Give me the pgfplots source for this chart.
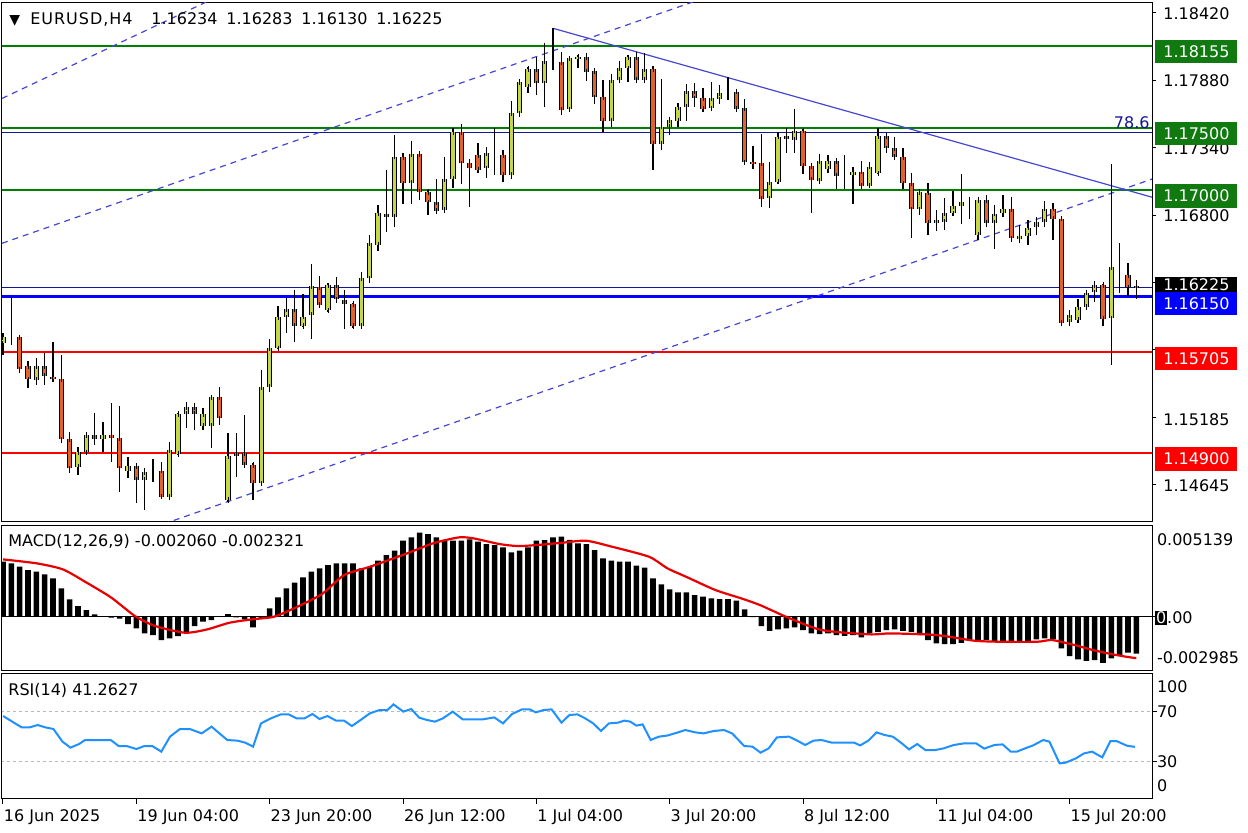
\documentclass[border=0pt]{standalone}
\usepackage{pgfplots}
\pgfplotsset{compat=1.18}
\usepackage{pgfplotstable}
\usepackage{fontspec}
\setmainfont{DejaVu Sans}

\definecolor{bullc}{RGB}{198,214,72}
\definecolor{bearc}{RGB}{226,98,46}
\definecolor{lvgreen}{RGB}{0,128,0}
\definecolor{boxgreen}{RGB}{16,122,16}
\definecolor{chan}{RGB}{70,70,210}
\definecolor{fibblue}{RGB}{20,20,150}
\definecolor{rsiblue}{RGB}{30,144,255}
\definecolor{macdred}{RGB}{232,0,0}
\newcommand\mt{\fontsize{8}{9.6}\selectfont}

% EURUSD H4 candles: bar index, open, high, low, close
\pgfplotstableread{
k o h l c
0 1.15776 1.15856 1.15682 1.15824
1 1.15824 1.16149 1.15762 1.15824
4 1.15482 1.15656 1.15442 1.15597
9 1.14789 1.14949 1.14722 1.14909
10 1.14904 1.15069 1.14882 1.15042
12 1.15008 1.15149 1.14909 1.15042
15 1.14757 1.14869 1.14696 1.14794
17 1.14682 1.14776 1.14442 1.14749
18 1.14757 1.14856 1.14669 1.14757
20 1.14549 1.14989 1.14536 1.14922
21 1.14890 1.15221 1.14882 1.15210
22 1.15210 1.15309 1.15096 1.15264
24 1.15114 1.15256 1.15082 1.15210
25 1.15114 1.15349 1.14936 1.15344
27 1.14522 1.15061 1.14509 1.14874
31 1.14656 1.15562 1.14634 1.15429
32 1.15429 1.15808 1.15389 1.15736
33 1.15736 1.16074 1.15728 1.15984
34 1.15984 1.16136 1.15856 1.16048
36 1.15914 1.16168 1.15904 1.15989
37 1.16002 1.16408 1.15808 1.16234
39 1.16042 1.16261 1.16029 1.16242
43 1.15914 1.16349 1.15896 1.16296
44 1.16296 1.16642 1.16256 1.16576
45 1.16562 1.16882 1.16517 1.16816
47 1.16789 1.17442 1.16709 1.17269
49 1.17061 1.17397 1.16890 1.17290
53 1.16842 1.17269 1.16816 1.17090
54 1.17090 1.17501 1.17016 1.17464
58 1.17176 1.17344 1.17096 1.17296
59 1.17296 1.17496 1.17122 1.17296
61 1.17122 1.17717 1.17088 1.17621
62 1.17616 1.17882 1.17589 1.17869
63 1.17829 1.17989 1.17776 1.17970
65 1.17856 1.18176 1.17664 1.18037
66 1.18034 1.18296 1.17962 1.18034
68 1.17648 1.18069 1.17642 1.18056
69 1.18050 1.18082 1.17976 1.18069
73 1.17554 1.17930 1.17509 1.17882
74 1.17882 1.18034 1.17877 1.17976
75 1.17976 1.18082 1.17869 1.18064
77 1.17882 1.18096 1.17861 1.17970
79 1.17370 1.17890 1.17327 1.17509
80 1.17509 1.17589 1.17442 1.17562
81 1.17557 1.17701 1.17509 1.17664
82 1.17669 1.17850 1.17557 1.17797
85 1.17656 1.17869 1.17648 1.17736
86 1.17728 1.17842 1.17690 1.17781
87 1.17789 1.17904 1.17722 1.17789
92 1.16936 1.17224 1.16856 1.17069
93 1.17069 1.17469 1.17048 1.17429
95 1.17402 1.17648 1.17301 1.17477
98 1.17074 1.17290 1.17061 1.17237
99 1.17170 1.17282 1.17136 1.17237
101 1.17122 1.17282 1.17008 1.17122
102 1.17122 1.17189 1.16890 1.17149
104 1.17037 1.17229 1.17029 1.17189
105 1.17136 1.17496 1.17130 1.17434
110 1.16848 1.17002 1.16802 1.16989
112 1.16741 1.16842 1.16677 1.16762
113 1.16749 1.16943 1.16687 1.16816
114 1.16816 1.16997 1.16794 1.16874
115 1.16874 1.17130 1.16730 1.16909
116 1.16909 1.16949 1.16775 1.16909
117 1.16642 1.16927 1.16602 1.16922
119 1.16741 1.16882 1.16527 1.16816
120 1.16816 1.16962 1.16783 1.16848
122 1.16607 1.16722 1.16581 1.16634
123 1.16634 1.16762 1.16562 1.16703
124 1.16709 1.16789 1.16642 1.16749
125 1.16749 1.16914 1.16703 1.16855
128 1.15949 1.16042 1.15914 1.16002
129 1.15962 1.16127 1.15941 1.16069
130 1.16069 1.16202 1.16047 1.16183
131 1.16183 1.16274 1.16109 1.16242
133 1.15975 1.17210 1.15602 1.16383
134 1.16383 1.16576 1.16181 1.16383
}\bulls

\pgfplotstableread{
k o h l c
2 1.15824 1.15842 1.15536 1.15568
3 1.15597 1.15634 1.15421 1.15488
5 1.15597 1.15696 1.15442 1.15514
6 1.15509 1.15789 1.15469 1.15493
7 1.15490 1.15682 1.14976 1.15008
8 1.15008 1.15069 1.14736 1.14776
11 1.15042 1.15216 1.14962 1.15008
13 1.15042 1.15296 1.14829 1.15016
14 1.15016 1.15274 1.14589 1.14776
16 1.14794 1.14802 1.14496 1.14682
19 1.14757 1.14829 1.14530 1.14549
23 1.15264 1.15296 1.15082 1.15210
26 1.15349 1.15429 1.15122 1.15176
28 1.14896 1.15056 1.14709 1.14874
29 1.14896 1.15202 1.14789 1.14802
30 1.14802 1.14816 1.14522 1.14661
35 1.16048 1.16208 1.15789 1.15914
38 1.16224 1.16314 1.16069 1.16082
40 1.16242 1.16304 1.16101 1.16128
41 1.16122 1.16208 1.15896 1.16090
42 1.16090 1.16101 1.15896 1.15914
46 1.16816 1.17162 1.16669 1.16789
48 1.17264 1.17301 1.16890 1.17056
50 1.17290 1.17317 1.16922 1.16989
51 1.16989 1.17002 1.16802 1.16904
52 1.16909 1.17088 1.16829 1.16837
55 1.17464 1.17528 1.17048 1.17216
56 1.17216 1.17248 1.16869 1.17181
57 1.17282 1.17381 1.17141 1.17162
60 1.17282 1.17322 1.17069 1.17122
64 1.17970 1.18069 1.17762 1.17856
67 1.18029 1.18109 1.17602 1.17642
70 1.18069 1.18096 1.17877 1.17949
71 1.17954 1.17976 1.17690 1.17744
72 1.17744 1.17882 1.17469 1.17554
76 1.18064 1.18109 1.17869 1.17882
78 1.17970 1.17994 1.17162 1.17370
83 1.17797 1.17856 1.17669 1.17736
84 1.17736 1.17816 1.17629 1.17650
88 1.17789 1.17802 1.17637 1.17648
89 1.17656 1.17728 1.17216 1.17224
90 1.17229 1.17354 1.17168 1.17216
91 1.17216 1.17450 1.16864 1.16930
94 1.17434 1.17496 1.17296 1.17408
96 1.17477 1.17488 1.17130 1.17197
97 1.17197 1.17210 1.16816 1.17082
100 1.17237 1.17248 1.17008 1.17114
103 1.17149 1.17237 1.17008 1.17037
106 1.17434 1.17442 1.17296 1.17336
107 1.17336 1.17424 1.17248 1.17269
108 1.17269 1.17341 1.17008 1.17056
109 1.17056 1.17141 1.16616 1.16848
111 1.16981 1.17061 1.16642 1.16741
118 1.16922 1.16962 1.16709 1.16741
121 1.16848 1.16949 1.16589 1.16616
126 1.16855 1.16901 1.16607 1.16775
127 1.16775 1.16783 1.15922 1.15941
132 1.16242 1.16250 1.15914 1.15975
135 1.16322 1.16415 1.16154 1.16224
136 1.16234 1.16283 1.16130 1.16225
}\bears

% MACD(12,26,9) histogram
\pgfplotstableread{
k v
0 0.003082
1 0.002989
2 0.002802
3 0.002615
4 0.002522
5 0.002372
6 0.002148
7 0.001588
8 0.000971
9 0.000598
10 0.000374
11 0.000131
12 0.000037
13 -0.000050
14 -0.000112
15 -0.000411
16 -0.000654
17 -0.000934
18 -0.001027
19 -0.001308
20 -0.001214
21 -0.001083
22 -0.000841
23 -0.000523
24 -0.000280
25 -0.000187
26 0.000037
27 0.000149
28 -0.000037
29 -0.000149
30 -0.000598
31 -0.000093
32 0.000467
33 0.001083
34 0.001588
35 0.001905
36 0.002204
37 0.002522
38 0.002709
39 0.002895
40 0.002989
41 0.002989
42 0.002989
43 0.002709
44 0.002802
45 0.003138
46 0.003456
47 0.003699
48 0.004259
49 0.004446
50 0.004707
51 0.004633
52 0.004446
53 0.004300
54 0.004259
55 0.004259
56 0.004334
57 0.004203
58 0.004072
59 0.004016
60 0.003885
61 0.003605
62 0.003699
63 0.003885
64 0.004259
65 0.004296
66 0.004446
67 0.004483
68 0.004300
69 0.004110
70 0.004072
71 0.003736
72 0.003269
73 0.003138
74 0.003082
75 0.003082
76 0.002858
77 0.002746
78 0.002148
79 0.001812
80 0.001532
81 0.001364
82 0.001364
83 0.001214
84 0.001121
85 0.001027
86 0.000990
87 0.000990
88 0.000897
89 0.000411
90 -0.000020
91 -0.000523
92 -0.000785
93 -0.000710
94 -0.000654
95 -0.000598
96 -0.000747
97 -0.000934
98 -0.000971
99 -0.000934
100 -0.001027
101 -0.001065
102 -0.001027
103 -0.001158
104 -0.000934
105 -0.000841
106 -0.000747
107 -0.000710
108 -0.000785
109 -0.000841
110 -0.001027
111 -0.001308
112 -0.001494
113 -0.001532
114 -0.001532
115 -0.001457
116 -0.001345
117 -0.001308
118 -0.001308
119 -0.001345
120 -0.001345
121 -0.001345
122 -0.001345
123 -0.001345
124 -0.001270
125 -0.001214
126 -0.001270
127 -0.001775
128 -0.002204
129 -0.002391
130 -0.002466
131 -0.002428
132 -0.002578
133 -0.002335
134 -0.002148
135 -0.002017
136 -0.002060
}\macd

% MACD signal line
\pgfplotstableread{
k v
0 0.003213
4.08 0.002989
7.19 0.002653
9.85 0.001961
12.96 0.001083
15.84 0.000037
18.29 -0.000523
21.84 -0.000897
24.5 -0.000710
27.17 -0.000336
29.83 -0.000149
32.5 0.000000
35.16 0.000523
38.27 0.001270
40.93 0.002335
44.04 0.002802
48.48 0.003549
51.58 0.004110
54.7 0.004446
56.47 0.004390
59.57 0.004072
61.8 0.003960
64.01 0.004016
67.12 0.004147
69.97 0.004259
73.08 0.003923
77.52 0.003362
79.74 0.002709
81.96 0.002242
85.5 0.001494
88.6 0.001027
90.84 0.000654
93.95 0.000000
97.5 -0.000654
99.72 -0.000841
104.2 -0.000990
106.4 -0.000934
110.8 -0.000990
113.0 -0.001083
116.6 -0.001345
119.7 -0.001401
124.1 -0.001401
125.9 -0.001308
128.6 -0.001588
130.8 -0.001868
133.0 -0.002092
134.8 -0.002242
136 -0.002321
}\signal

% RSI(14)
\pgfplotstableread{
k r
0.02 66.0
1.30 60.7
2.25 56.9
3.20 56.9
4.15 58.8
5.10 56.9
6.05 55.6
7.14 45.5
8.09 40.7
9.13 43.6
9.84 46.8
11.03 46.8
12.93 46.8
13.88 42.0
14.82 42.0
16.01 39.6
16.96 42.0
17.91 42.0
19.00 37.5
20.04 49.5
21.23 55.6
22.42 55.6
23.84 52.1
25.03 57.5
25.97 52.1
26.92 46.8
28.11 46.3
29.06 44.7
30.01 41.5
30.96 60.1
32.14 64.1
33.33 67.3
34.28 67.3
35.23 64.1
36.18 64.1
37.13 67.6
37.98 63.6
38.93 66.0
39.97 62.3
40.92 62.3
41.87 58.0
42.91 62.8
44.01 68.1
45.19 70.8
46.14 70.8
46.85 75.3
48.04 69.5
48.99 71.6
49.94 64.7
50.89 62.8
51.83 61.5
52.78 64.1
53.97 69.5
55.16 63.3
56.58 63.3
57.53 63.3
58.95 64.9
60.00 60.1
61.09 67.6
62.27 71.3
63.22 71.3
63.93 68.9
64.88 70.8
65.83 71.3
67.02 60.7
67.97 66.8
68.92 67.3
69.87 64.1
70.82 60.1
71.76 54.0
72.71 60.1
73.82 60.7
74.55 62.3
75.28 61.5
76.01 58.3
76.75 59.3
77.72 46.8
78.70 49.5
79.67 50.3
80.90 52.7
81.87 54.8
83.09 52.9
84.07 52.1
85.29 54.0
86.51 54.8
87.49 52.1
88.95 42.0
89.93 41.5
90.90 36.7
91.88 40.1
92.86 48.9
94.32 49.5
95.30 46.3
96.27 42.8
97.25 46.3
98.23 46.8
99.45 44.7
100.67 44.7
102.13 44.7
102.86 42.5
103.84 46.3
104.82 52.9
105.79 50.8
106.77 49.5
107.75 44.7
108.72 39.3
109.70 43.6
110.68 38.8
111.90 38.8
112.87 40.1
114.09 42.8
115.31 44.1
116.78 44.1
117.75 39.9
118.97 42.8
119.95 43.3
120.93 37.5
121.66 37.5
122.64 40.1
123.61 42.5
124.83 46.8
125.57 45.5
126.79 28.1
127.52 28.7
128.74 32.1
129.72 36.1
130.69 37.5
131.91 32.9
132.89 46.0
133.62 46.0
134.84 42.3
135.82 41.3
}\rsi

\pgfplotsset{
  panel/.style={scale only axis, width=575pt, xmin=-0.12, xmax=137.88,
    anchor=north west, axis line style={black, line width=0.5pt},
    xtick=\empty, tick align=outside, ytick pos=right,
    yticklabel={\phantom{0}}, major tick length=2pt,
    tick style={black, line width=0.5pt}, scaled y ticks=false},
  wick/.style={draw=none, mark=none, forget plot,
    error bars/.cd, y dir=both, y explicit, error mark=none,
    error bar style={draw=black, line width=0.6pt}},
  bodyout/.style={draw=none, mark=none, forget plot,
    error bars/.cd, y dir=both, y explicit, error mark=none,
    error bar style={draw=black, line width=2.8pt}},
  bodyin/.style={draw=none, mark=none, forget plot,
    error bars/.cd, y dir=both, y explicit, error mark=-,
    error mark options={draw=black, line width=0.5pt, mark size=1.4pt},
    error bar style={draw=#1, line width=1.8pt}},
  hl/.style={forget plot, line width=1.1pt},
}

\begin{document}
\begin{tikzpicture}
\useasboundingbox (0,0) rectangle (624pt,-416pt);

% ---------- price panel ----------
\begin{axis}[panel, at={(1pt,-1pt)}, height=259.5pt,
  ymin=1.143544, ymax=1.185064,
  ytick={1.14645,1.15185,1.15725,1.16265,1.16800,1.17340,1.17880,1.18420}]
  % horizontal levels
  \addplot[hl, lvgreen] coordinates {(-1,1.18155) (140,1.18155)};
  \addplot[hl, lvgreen] coordinates {(-1,1.17500) (140,1.17500)};
  \addplot[hl, lvgreen] coordinates {(-1,1.17000) (140,1.17000)};
  \addplot[forget plot, fibblue, line width=0.5pt] coordinates {(-1,1.17464) (140,1.17464)};
  \addplot[forget plot, fibblue, line width=0.5pt] coordinates {(-1,1.16225) (140,1.16225)};
  \addplot[hl, blue] coordinates {(-1,1.16150) (140,1.16150)};
  \addplot[hl, red] coordinates {(-1,1.15705) (140,1.15705)};
  \addplot[hl, red] coordinates {(-1,1.14900) (140,1.14900)};
  % channel and trend lines
  \addplot[forget plot, chan, line width=0.6pt, dash pattern=on 3pt off 2.5pt] coordinates {(-0.12,1.17735) (30,1.18683)};
  \addplot[forget plot, chan, line width=0.6pt, dash pattern=on 3pt off 2.5pt] coordinates {(-0.12,1.16576) (90,1.18675)};
  \addplot[forget plot, chan, line width=0.6pt, dash pattern=on 3pt off 2.5pt] coordinates {(18,1.14301) (137.88,1.17090)};
  \addplot[forget plot, chan, line width=0.6pt] coordinates {(66,1.18296) (137.88,1.16945)};
  % candles
  \addplot[wick] table[x=k, y expr={(\thisrow{h}+\thisrow{l})/2}, y error expr={(\thisrow{h}-\thisrow{l})/2}] {\bulls};
  \addplot[wick] table[x=k, y expr={(\thisrow{h}+\thisrow{l})/2}, y error expr={(\thisrow{h}-\thisrow{l})/2}] {\bears};
  \addplot[bodyout] table[x=k, y expr={(\thisrow{o}+\thisrow{c})/2}, y error expr={abs(\thisrow{o}-\thisrow{c})/2}] {\bulls};
  \addplot[bodyout] table[x=k, y expr={(\thisrow{o}+\thisrow{c})/2}, y error expr={abs(\thisrow{o}-\thisrow{c})/2}] {\bears};
  \addplot[bodyin=bullc] table[x=k, y expr={(\thisrow{o}+\thisrow{c})/2}, y error expr={abs(\thisrow{o}-\thisrow{c})/2}] {\bulls};
  \addplot[bodyin=bearc] table[x=k, y expr={(\thisrow{o}+\thisrow{c})/2}, y error expr={abs(\thisrow{o}-\thisrow{c})/2}] {\bears};
\end{axis}

% ---------- MACD panel ----------
\begin{axis}[panel, at={(1pt,-262.5pt)}, height=72.5pt,
  ymin=-0.002985, ymax=0.005139, ytick={0}]
  \addplot[forget plot, black, line width=0.6pt] coordinates {(-1,0) (140,0)};
  \addplot[ybar, bar width=2.8pt, fill=black, draw=none, forget plot] table[x=k, y=v] {\macd};
  \addplot[forget plot, macdred, line width=1.1pt, smooth, tension=0.4] table[x=k, y=v] {\signal};
\end{axis}

% ---------- RSI panel ----------
\begin{axis}[panel, at={(1pt,-336.75pt)}, height=62.5pt,
  ymin=0, ymax=100, ytick={30,70},
  xtick={0,16,32,48,64,80,96,112,128}, xtick pos=left,
  major tick length=2.5pt,
  xticklabels={16 Jun 2025,19 Jun 04:00,23 Jun 20:00,26 Jun 12:00,1 Jul 04:00,3 Jul 20:00,8 Jul 12:00,11 Jul 04:00,15 Jul 20:00},
  xticklabel style={font=\mt, anchor=north west, inner sep=0pt, xshift=0.3pt, yshift=-2.8pt}]
  \addplot[forget plot, gray!55, line width=0.5pt, dash pattern=on 1.5pt off 1.5pt] coordinates {(-1,70) (140,70)};
  \addplot[forget plot, gray!55, line width=0.5pt, dash pattern=on 1.5pt off 1.5pt] coordinates {(-1,30) (140,30)};
  \addplot[forget plot, rsiblue, line width=1pt] table[x=k, y=r] {\rsi};
\end{axis}

% ---------- captions ----------
\node[font=\fontsize{7}{8}\selectfont, anchor=base west, inner sep=0pt] at (4.5pt,-12pt) {▼};
\node[font=\mt, anchor=base west, inner sep=0pt] at (15pt,-12.4pt) {\addfontfeatures{LetterSpace=6}EURUSD,H4};
\node[font=\mt, anchor=base west, inner sep=0pt] at (75.5pt,-12.4pt) {1.16234};
\node[font=\mt, anchor=base west, inner sep=0pt] at (113pt,-12.4pt) {1.16283};
\node[font=\mt, anchor=base west, inner sep=0pt] at (150.5pt,-12.4pt) {1.16130};
\node[font=\mt, anchor=base west, inner sep=0pt] at (188pt,-12.4pt) {1.16225};
\node[font=\mt, anchor=base west, inner sep=0pt] at (4pt,-273.2pt) {MACD(12,26,9) -0.002060 -0.002321};
\node[font=\mt, anchor=base west, inner sep=0pt] at (4pt,-347.6pt) {RSI(14) 41.2627};
\node[font=\mt, text=fibblue, anchor=base east, inner sep=0pt] at (575pt,-64pt) {78.6};

% ---------- price scale ----------
\foreach \t/\yy in {1.18420/7,1.17880/40.5,1.17340/74.15,1.16800/108,1.15185/209.65,1.14645/243}
  \node[font=\mt, anchor=west, inner sep=0pt] at (581.5pt,-\yy pt) {\t};
\tikzset{lab/.style={font=\mt, text=white, inner sep=0pt, minimum width=41pt, minimum height=11.6pt, anchor=north west}}
\node[lab, fill=boxgreen] at (577.5pt,-19.65pt) {1.18155};
\node[lab, fill=boxgreen] at (577.5pt,-60.85pt) {1.17500};
\node[lab, fill=boxgreen] at (577.5pt,-92pt) {1.17000};
\node[lab, fill=black, minimum height=7.6pt] at (577.5pt,-138.35pt) {1.16225};
\node[lab, fill=blue] at (577.5pt,-145.85pt) {1.16150};
\node[lab, fill=red] at (577.5pt,-173.35pt) {1.15705};
\node[lab, fill=red] at (577.5pt,-223.5pt) {1.14900};

% MACD and RSI scales
\node[font=\mt, anchor=west, inner sep=0pt] at (578.3pt,-270pt) {0.005139};
\node[font=\mt, anchor=west, inner sep=0pt] at (577.5pt,-309pt) {{\fboxsep=0.4pt\colorbox{black}{\textcolor{white}{0}}}.00};
\node[font=\mt, anchor=west, inner sep=0pt] at (578.3pt,-329pt) {-0.002985};
\node[font=\mt, anchor=west, inner sep=0pt] at (578.3pt,-343.3pt) {100};
\node[font=\mt, anchor=west, inner sep=0pt] at (578.3pt,-355.8pt) {70};
\node[font=\mt, anchor=west, inner sep=0pt] at (578.3pt,-380.8pt) {30};
\node[font=\mt, anchor=west, inner sep=0pt] at (578.3pt,-392.9pt) {0};
\end{tikzpicture}
\end{document}
